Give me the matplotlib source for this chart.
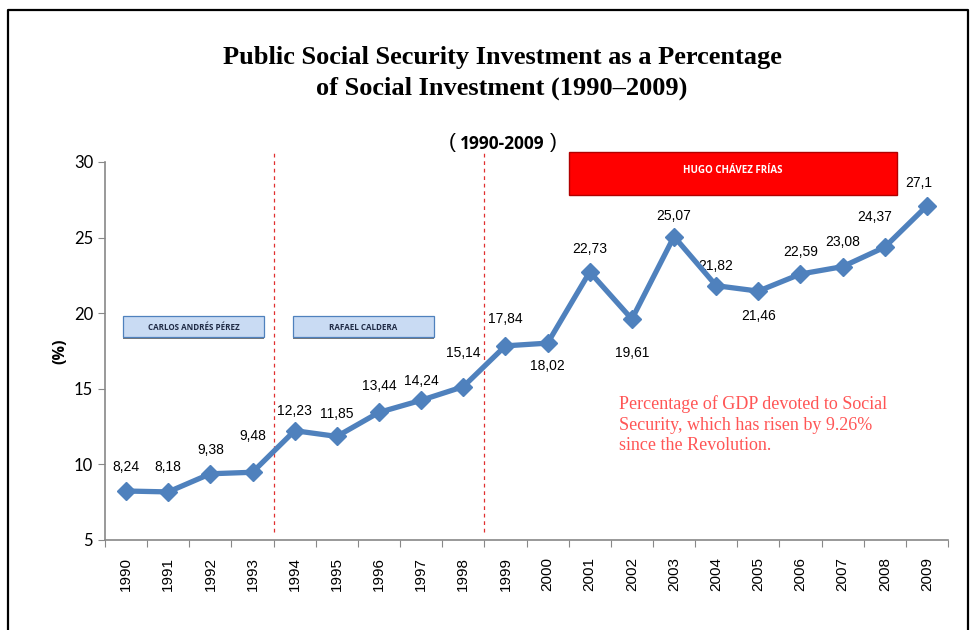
import numpy as np
import matplotlib
matplotlib.use("Agg")
import matplotlib.pyplot as plt
from matplotlib.patches import Rectangle
from matplotlib.lines import Line2D

## Data
years = ['1990', '1991', '1992', '1993', '1994', '1995', '1996', '1997', '1998', '1999',
         '2000', '2001', '2002', '2003', '2004', '2005', '2006', '2007', '2008', '2009']
values = [8.24, 8.18, 9.38, 9.48, 12.23, 11.85, 13.44, 14.24, 15.14, 17.84,
          18.02, 22.73, 19.61, 25.07, 21.82, 21.46, 22.59, 23.08, 24.37, 27.1]
y_ticks = [5, 10, 15, 20, 25, 30]
presidents = ['CARLOS ANDRÉS PÉREZ', 'RAFAEL CALDERA', 'HUGO CHÁVEZ FRÍAS']

# label offsets (points) for each data label
label_off = [(0, 17), (0, 18), (0, 17), (0, 26), (0, 14.5), (0, 16), (0, 19), (0, 14), (0, 24.5), (0, 19),
             (0, -16.5), (0, 16.5), (0, -24.5), (0, 15), (0, 14.5), (0, -18), (0, 16), (0, 18), (-7, 21.5), (-6, 16.5)]

blue = '#4f81bd'
x = np.arange(len(years))

fig = plt.figure(figsize=(9.79, 6.3), dpi=100)
ax = fig.add_axes([105/979, 1-540/630, (948-105)/979, (540-162)/630])

ax.plot(x, values, color=blue, lw=3.8, marker='D', markersize=9.5, zorder=5)

for i, v in enumerate(values):
    lab = ('%g' % v).replace('.', ',')
    dx, dy = label_off[i]
    ax.annotate(lab, (x[i], v), xytext=(dx, dy), textcoords='offset points',
                ha='center', va='center', fontsize=10, family='Liberation Sans')

ax.set_xlim(-0.5, len(years) - 0.5)
ax.set_ylim(5, 30)
ax.set_yticks(y_ticks)
ax.set_yticklabels([str(t) for t in y_ticks], fontsize=12, family='Lato')
ax.set_xticks(np.arange(-0.5, len(years)), minor=False)
ax.set_xticklabels([])
ax.set_xticks(x, minor=True)
ax.set_xticklabels(years, minor=True, rotation=90, fontsize=11, family='Liberation Sans')
ax.tick_params(axis='x', which='minor', length=0, pad=12)
ax.tick_params(axis='x', which='major', length=5, color='#888888')
ax.tick_params(axis='y', length=5, color='#888888')
for s in ['top', 'right']:
    ax.spines[s].set_visible(False)
for s in ['left', 'bottom']:
    ax.spines[s].set_color('#888888')
    ax.spines[s].set_linewidth(1.2)
ax.set_ylabel('(%)', fontsize=11.5, fontweight='bold', family='Open Sans', labelpad=4)

# period separators
for xv in [3.5, 8.5]:
    ax.plot([xv, xv], [5.5, 30.6], ls=(0, (3, 3)), color='#e03030', lw=0.9, clip_on=False, zorder=2)

# president boxes
for (x0, x1), name in zip([(-0.07, 3.27), (3.96, 7.3)], presidents[:2]):
    ax.add_patch(Rectangle((x0, 18.28), x1 - x0, 0.12, facecolor='#777777', edgecolor='none', zorder=3))
    ax.add_patch(Rectangle((x0, 18.4), x1 - x0, 1.42, facecolor='#c9dbf3', edgecolor=blue, lw=0.9, zorder=4))
    ax.text((x0 + x1) / 2, 19.08, name, ha='center', va='center', fontsize=5.8,
            fontweight='bold', color='#1f2a44', family='Open Sans', zorder=5)

ax.add_patch(Rectangle((10.5, 27.8), 7.8, 2.85, facecolor='#ff0000', edgecolor='#b00000', lw=1,
                       clip_on=False, zorder=4))
ax.text(14.4, 29.45, presidents[2], ha='center', va='center', fontsize=7, fontweight='bold',
        color='white', family='Open Sans', zorder=5, clip_on=False)

ax.text(11.7, 14.55, 'Percentage of GDP devoted to Social\nSecurity, which has risen by 9.26%\nsince the Revolution.',
        ha='left', va='top', fontsize=13, color='#ff5555', family='Liberation Serif', linespacing=1.25)

# titles
fig.text(502/979, 1-73/630, 'Public Social Security Investment as a Percentage\nof Social Investment (1990\u20132009)',
         ha='center', va='center', fontsize=19, fontweight='bold', family='Liberation Serif', linespacing=1.45)
fig.text(452/979, 1-142/630, '(', ha='center', va='center', fontsize=15, family='Liberation Sans')
fig.text(502/979, 1-144/630, '1990-2009', ha='center', va='center', fontsize=12.5, fontweight='bold', family='Open Sans')
fig.text(553/979, 1-142/630, ')', ha='center', va='center', fontsize=15, family='Liberation Sans')

# frame
fig.add_artist(Line2D([8/979, 8/979, 968/979, 968/979], [0, 1-10/630, 1-10/630, 0],
                      color='black', lw=1.6, transform=fig.transFigure))

fig.savefig('out.png', dpi=100)
